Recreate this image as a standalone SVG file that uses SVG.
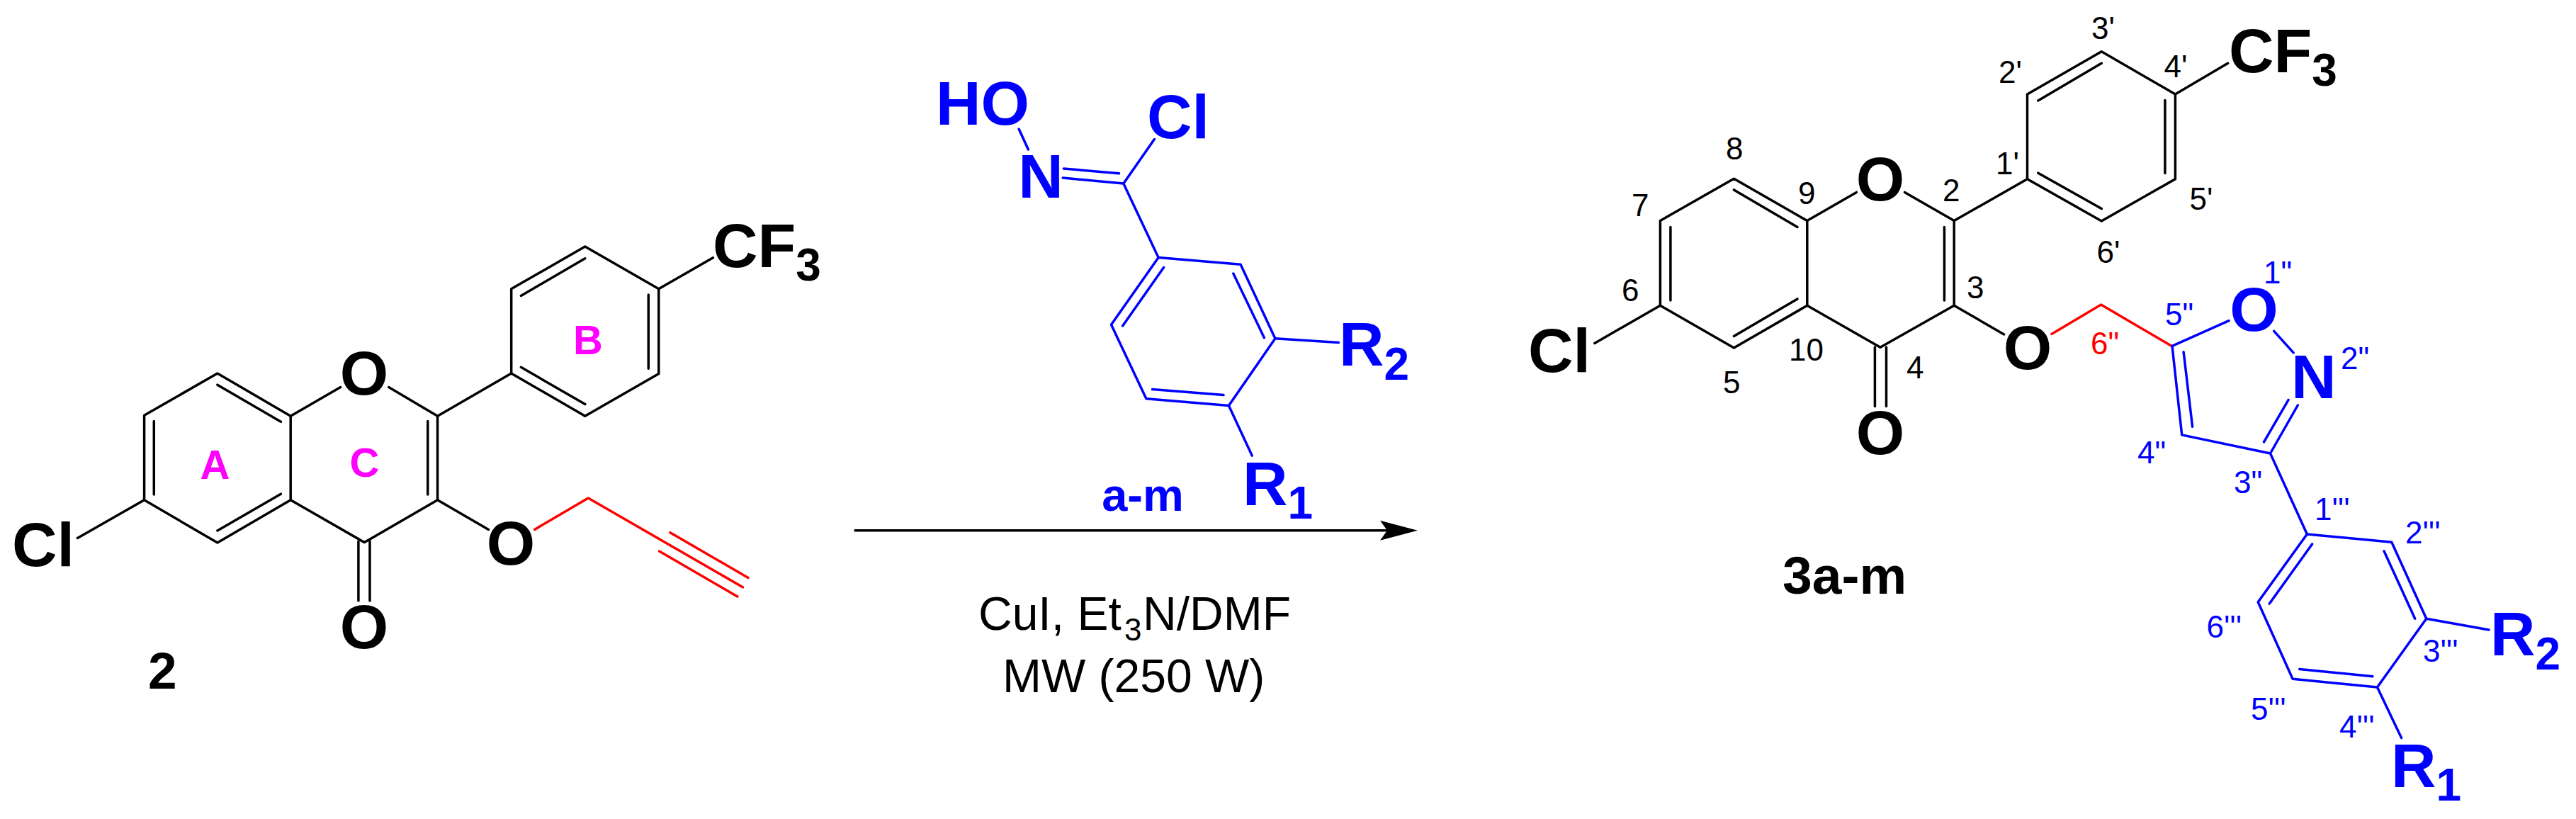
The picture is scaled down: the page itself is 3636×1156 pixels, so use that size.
<svg xmlns="http://www.w3.org/2000/svg" width="3636" height="1156" viewBox="0 0 3636 1156">
<defs>
<style>
text{font-family:"Liberation Sans",Arial,sans-serif}
.b{font-weight:700;font-size:88px}
.mid{text-anchor:middle}
.sub{font-weight:700;font-size:64px}
.rs{font-size:64px;font-weight:700}
.ring{font-weight:700;font-size:58px;fill:#ff00ff;text-anchor:middle}
.n{font-size:44px}
.k{fill:#000}.bl{fill:#0000ff}.rd{fill:#ff0000}
.lk,.lb,.lr{fill:none;stroke-width:3.5;stroke-linecap:round;stroke-linejoin:round}
.lk{stroke:#000}.lb{stroke:#0000ff}.lr{stroke:#ff0000}
.cond{font-size:66px;fill:#000}
</style>
<marker id="head" markerUnits="userSpaceOnUse" markerWidth="56" markerHeight="30" refX="10" refY="15" orient="auto">
<path d="M0,1 L53,15 L0,29 L10,15 Z" fill="#000"/>
</marker>
</defs>
<rect width="3636" height="1156" fill="#fff"/>

<g id="compound-2">
<path class="lk" d="M203.6,586.3 L306.9,527 L410.2,587.2 L410.2,705.8 L306.9,766 L203.6,705.8 Z"/>
<path class="lk" d="M217.3,594.4 V698 M306.9,543.2 L396.4,595.3 M396.4,697.2 L306.9,748.9"/>
<path class="lk" d="M410.2,587.2 L480.6,546.6 M548.7,546.6 L617.6,587.2 L617.6,705.8 L514.3,765.6 L410.2,705.8"/>
<path class="lk" d="M603.8,594.4 V698 M505.9,764 V848 M522,764 V848"/>
<path class="lk" d="M617.6,587.2 L721.7,527 L721.7,407.8 L825.8,348 L929.8,407.8 L929.8,527.4 L825.8,587.2 L721.7,527"/>
<path class="lk" d="M735.4,417.4 L825.8,364.8 M915.3,416 V520.2 M735.4,518.3 L825.8,570.5"/>
<path class="lk" d="M929.8,407.8 L1006.4,363.8 M203.6,705.8 L109.4,759.4 M617.6,705.8 L689.5,747.4"/>
<path class="lr" d="M754.6,747.4 L830.3,703 L1048.4,828.8 M945.9,751.7 L1056,815.4 M930.6,778 L1040.8,842"/>
<text class="b k" x="17" y="799">Cl</text>
<text class="b k mid" x="514" y="557">O</text>
<text class="b k mid" x="721" y="797">O</text>
<text class="b k mid" x="514" y="915">O</text>
<text class="b k" x="1006" y="377">CF<tspan class="sub" y="396">3</tspan></text>
<text class="k" font-weight="700" font-size="73" x="209" y="972">2</text>
<text class="ring" x="303.5" y="675.7">A</text>
<text class="ring" x="830" y="499.7">B</text>
<text class="ring" x="514.5" y="673">C</text>
</g>

<g id="reagent-a-m">
<path class="lb" d="M1438.2,182.2 L1451.4,210.9 M1500.2,251 L1585.8,259.1 L1629.4,196.5 M1501.4,237.9 L1579.5,244.8 M1585.8,259.1 L1635.1,363.6"/>
<path class="lb" d="M1635.1,363.6 L1751.1,373.3 L1799.9,477.8 L1734.4,572.5 L1617.9,562.8 L1568.5,458.3 Z"/>
<path class="lb" d="M1740.8,386 L1784.4,476.7 M1727,557.6 L1626.5,549.6 M1584.6,460 L1642.6,377.4"/>
<path class="lb" d="M1799.9,477.8 L1889.4,483.6 M1734.4,572.5 L1767.2,643.1"/>
<text class="b bl" x="1321" y="176">HO</text>
<text class="b bl" x="1619" y="195">Cl</text>
<text class="b bl mid" x="1469" y="279">N</text>
<text class="b bl" x="1890" y="516">R<tspan class="rs" y="536">2</tspan></text>
<text class="b bl" x="1754" y="712.6">R<tspan class="rs" y="731.5">1</tspan></text>
<text class="bl mid" font-weight="700" font-size="65" x="1613" y="721">a-m</text>
</g>

<g id="connectors">
<line x1="1205.7" y1="748.8" x2="1958" y2="748.8" stroke="#000" stroke-width="3.5" marker-end="url(#head)"/>
</g>

<g id="conditions">
<text class="cond" x="1381" y="889">CuI, Et<tspan font-size="44" x="1587" y="904">3</tspan><tspan x="1613" y="889">N/DMF</tspan></text>
<text class="cond" x="1415" y="977">MW (250 W)</text>
</g>

<g id="compound-3a-m">
<path class="lk" d="M2343.4,311.6 L2447.4,252.2 L2550.8,311.6 L2550.8,431.3 L2447.4,491.1 L2343.4,431.3 Z"/>
<path class="lk" d="M2357.9,320.5 V424 M2447.4,267.9 L2537,320.5 M2537,421.9 L2447.4,474.6"/>
<path class="lk" d="M2550.8,311.6 L2620.4,271.4 M2688.5,271.4 L2758.2,311.6 L2758.2,431.3 L2654,490.2 L2550.8,431.3"/>
<path class="lk" d="M2744.4,320.5 V424 M2646.4,490 V573.6 M2662.5,490 V573.6"/>
<path class="lk" d="M2758.2,311.6 L2861.5,252.7 L2861.5,133 L2966.3,72.8 L3070.4,133 L3070.4,252.7 L2966.3,312 L2861.5,252.7"/>
<path class="lk" d="M2876.8,142 L2966.3,89.3 M3055.9,141.5 V244.6 M2876.8,244.2 L2966.3,294.6"/>
<path class="lk" d="M3070.4,133 L3144.6,89.3 M2343.4,431.3 L2250.8,484.4 M2758.2,431.3 L2828.6,471.9"/>
<path class="lr" d="M2895.9,471.4 L2965.6,429.9 L3065.8,488.8"/>
<path class="lb" d="M3146.1,452.7 L3066,488.3 L3079.7,613.9 L3204.5,640 L3243.3,572 M3209.7,467.4 L3237.2,497.8 M3082.1,496.8 L3094.6,602.2 M3195.5,623.8 L3230.1,564.4 M3204.5,640 L3256.4,753.9"/>
<path class="lb" d="M3256.4,753.9 L3375.8,765.2 L3424.8,873.2 L3355.5,970 L3236.1,958.3 L3187.2,849.8 Z"/>
<path class="lb" d="M3365,777.8 L3408.7,873.2 M3349,954.7 L3245.7,944.4 M3203.3,852.1 L3263.6,767.9"/>
<path class="lb" d="M3424.8,873.2 L3513.1,889 M3355.5,970 L3389.6,1041.6"/>
<text class="b k" x="2157" y="524.6">Cl</text>
<text class="b k mid" x="2654" y="282.5">O</text>
<text class="b k mid" x="2862" y="521">O</text>
<text class="b k mid" x="2654" y="641">O</text>
<text class="b k" x="3146" y="102">CF<tspan class="sub" y="121.4">3</tspan></text>
<text class="b bl mid" x="3181.4" y="467">O</text>
<text class="b bl mid" x="3265.7" y="561.7">N</text>
<text class="b bl" x="3515" y="925">R<tspan class="rs" y="945.3">2</tspan></text>
<text class="b bl" x="3375" y="1110.5">R<tspan class="rs" y="1129.9">1</tspan></text>
<text class="k" font-weight="700" font-size="75" x="2516" y="838">3a-m</text>
<g class="n k">
<text x="2952" y="54.5">3'</text>
<text x="2821" y="117.4">2'</text>
<text x="3054.5" y="108.5">4'</text>
<text x="2817" y="245.5">1'</text>
<text x="2436" y="225.4">8</text>
<text x="2303" y="304.5">7</text>
<text x="2538" y="288">9</text>
<text x="2742" y="283.5">2</text>
<text x="3090.5" y="296">5'</text>
<text x="2959.5" y="371.4">6'</text>
<text x="2776" y="420.5">3</text>
<text x="2289" y="425">6</text>
<text x="2525" y="509">10</text>
<text x="2691" y="534">4</text>
<text x="2432" y="554.5">5</text>
</g>
<text class="n rd" x="2951" y="500">6"</text>
<g class="n bl">
<text x="3195" y="400.4">1"</text>
<text x="3056" y="458.5">5"</text>
<text x="3017" y="653.5">4"</text>
<text x="3153" y="696">3"</text>
<text x="3304" y="520.7">2"</text>
<text x="3267" y="733.7">1'''</text>
<text x="3395" y="766.5">2'''</text>
<text x="3114.5" y="900">6'''</text>
<text x="3420" y="933.6">3'''</text>
<text x="3177" y="1016.4">5'''</text>
<text x="3302" y="1041">4'''</text>
</g>
</g>
</svg>
